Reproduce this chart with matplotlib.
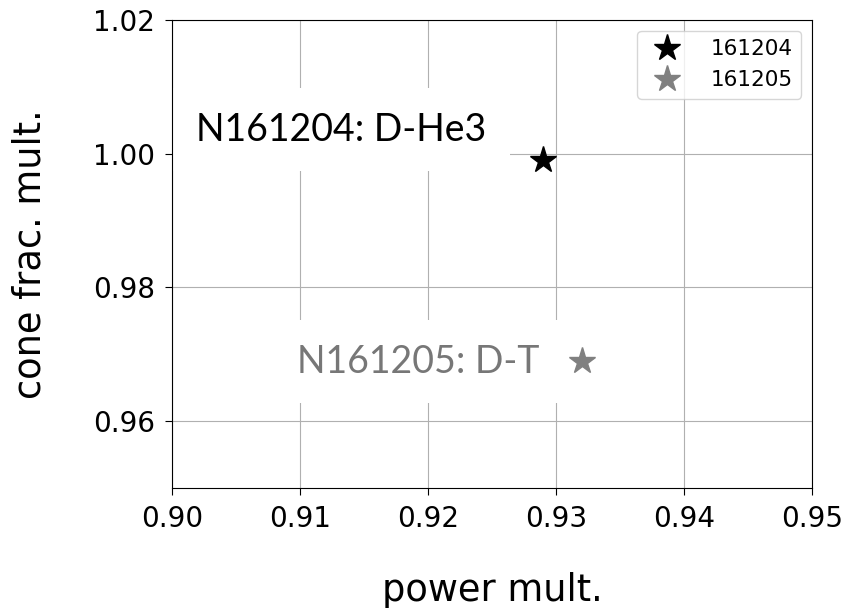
import matplotlib
matplotlib.use("Agg")
import matplotlib.pyplot as plt

shots = ["161204", "161205"]
power_mult = [0.929, 0.932]
cone_mult = [0.999, 0.969]
colors = ["black", "gray"]
notes = ["N161204: D-He3", "N161205: D-T"]
note_x = [0.9019, 0.9098]
note_y = [1.0036, 0.9689]
note_colors = ["black", "#777777"]

fig = plt.figure(figsize=(8.46, 6.08), dpi=100)
ax = fig.add_axes([0.2033, 0.1974, 0.7565, 0.7697])

for x, y, c, lab in zip(power_mult, cone_mult, colors, shots):
    ax.plot(x, y, "*", color=c, ms=20, label=lab, zorder=3)

for t, x, y, c in zip(notes, note_x, note_y, note_colors):
    ax.text(x, y, t, color=c, fontsize=27, family=["Lato", "DejaVu Sans"],
            va="center", ha="left", zorder=2,
            bbox=dict(facecolor="white", edgecolor="none", pad=17))

ax.set_xlim(0.90, 0.95)
ax.set_ylim(0.95, 1.02)
ax.set_xticks([0.90, 0.91, 0.92, 0.93, 0.94, 0.95])
ax.set_yticks([0.96, 0.98, 1.00, 1.02])
ax.tick_params(labelsize=20, length=5, pad=7)
ax.grid(True, color="#b0b0b0", zorder=0)
ax.set_axisbelow(True)

ax.set_xlabel("power mult.", fontsize=26.5, labelpad=28)
ax.set_ylabel("cone frac. mult.", fontsize=26.5, labelpad=32)

ax.legend(loc="upper right", fontsize=15.5, handletextpad=1.0)

fig.savefig("out.png", dpi=100)
